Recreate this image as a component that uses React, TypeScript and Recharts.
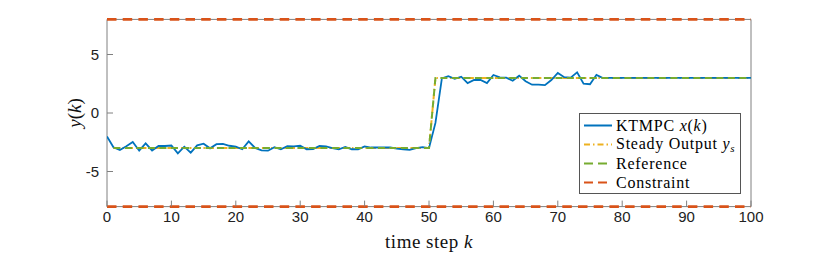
import React from 'react';
import { LineChart, Line, XAxis, YAxis, ReferenceLine, Legend, Label } from 'recharts';

// time step ticks and output ticks
const X_TICKS = [0, 10, 20, 30, 40, 50, 60, 70, 80, 90, 100];
const Y_TICKS = [-5, 0, 5];
const X_MIN = 0;
const X_MAX = 100;
const Y_MIN = -8;
const Y_MAX = 8;

// KTMPC output x(k), k = 0..100
const KTMPC = [
  -2.0, -2.93, -3.16, -2.85, -2.48, -3.22, -2.6, -3.2, -2.82, -2.82,
  -2.78, -3.45, -2.88, -3.39, -2.76, -2.62, -3.02, -2.66, -2.65, -2.8,
  -2.88, -3.1, -2.42, -2.98, -3.2, -3.22, -2.92, -3.1, -2.84, -2.85,
  -2.8, -3.1, -3.08, -2.82, -2.85, -3.0, -3.1, -2.9, -3.1, -3.1,
  -2.85, -2.95, -2.95, -2.95, -2.95, -3.05, -3.1, -3.15, -3.0, -2.92,
  -3.0, -0.85, 2.96, 3.15, 2.92, 3.1, 2.55, 2.82, 2.82, 2.55,
  3.25, 3.04, 3.02, 2.76, 3.19, 2.72, 2.42, 2.42, 2.38, 2.82,
  3.42, 3.06, 3.02, 3.48, 2.5, 2.46, 3.26, 2.98, 3, 3,
  3, 3, 3, 3, 3, 3, 3, 3, 3, 3,
  3, 3, 3, 3, 3, 3, 3, 3, 3, 3,
  3,
];

// steady output y_s and reference: corner points of the step
const STEADY_K = [1, 50, 51, 100];
const STEADY_Y = [-3, -3, 3, 3];
const REF_K = [1, 50, 51, 100];
const REF_Y = [-3, -3, 3, 3];

const BLUE = '#0072BD';
const YELLOW = '#EDB120';
const GREEN = '#77AC30';
const ORANGE = '#D95319';
const AXIS = '#808080';

const ktmpcData = KTMPC.map((y, k) => ({ k, y }));
const steadyData = STEADY_K.map((k, i) => ({ k, y: STEADY_Y[i] }));
const refData = REF_K.map((k, i) => ({ k, y: REF_Y[i] }));

const serif = '"Liberation Serif", "Times New Roman", serif';
const sans = '"Liberation Sans", Arial, sans-serif';

const legendRows = [
  { key: 'ktmpc', color: BLUE, dash: undefined, label: <>KTMPC <i>x</i>(<i>k</i>)</> },
  {
    key: 'ys',
    color: YELLOW,
    dash: '6 3 1.5 3',
    label: (
      <>
        Steady Output <i>y</i>
        <i style={{ fontSize: 11, position: 'relative', top: 3 }}>s</i>
      </>
    ),
  },
  { key: 'ref', color: GREEN, dash: '9 5', label: <>Reference</> },
  { key: 'con', color: ORANGE, dash: '9 5', label: <>Constraint</> },
];

const renderLegend = () => (
  <div
    style={{
      width: 162,
      height: 81,
      boxSizing: 'border-box',
      border: '1px solid #555',
      background: '#fff',
      padding: '2px 0 0 3px',
      fontFamily: serif,
      fontSize: 16,
      letterSpacing: 0.75,
      color: '#000',
    }}
  >
    {legendRows.map((r) => (
      <div key={r.key} style={{ display: 'flex', alignItems: 'center', height: 19, overflow: 'visible' }}>
        <svg width={33} height={19} style={{ flex: 'none' }}>
          <line x1={1} x2={29} y1={9.5} y2={9.5} stroke={r.color} strokeWidth={2} strokeDasharray={r.dash} />
        </svg>
        <span style={{ whiteSpace: 'nowrap', lineHeight: '17px' }}>{r.label}</span>
      </div>
    ))}
  </div>
);

const renderXLabel = () => (
  <text x={429} y={248} textAnchor="middle" fontFamily={serif} fontSize={19} letterSpacing={0.5} fill="#111">
    time step <tspan fontStyle="italic">k</tspan>
  </text>
);

const renderYLabel = () => (
  <text
    x={0}
    y={0}
    transform="translate(81,113) rotate(-90)"
    textAnchor="middle"
    fontFamily={serif}
    fontSize={19}
    fill="#111"
  >
    <tspan fontStyle="italic">y</tspan>(<tspan fontStyle="italic">k</tspan>)
  </text>
);

export default function App() {
  return (
    <div style={{ position: 'absolute', left: 0, top: 0, background: '#fff' }}>
      <LineChart width={830} height={258} margin={{ top: 18.4, right: 78, bottom: 21.4, left: 0 }}>
        <XAxis
          xAxisId="b"
          type="number"
          dataKey="k"
          domain={[X_MIN, X_MAX]}
          ticks={X_TICKS}
          allowDataOverflow
          height={30}
          axisLine={false}
          tickSize={-6}
          tickMargin={11}
          stroke={AXIS}
          tick={{ fill: '#222', fontSize: 15, fontFamily: sans }}
        >
          <Label content={renderXLabel} />
        </XAxis>
        <XAxis
          xAxisId="t"
          orientation="top"
          type="number"
          dataKey="k"
          domain={[X_MIN, X_MAX]}
          ticks={X_TICKS}
          height={1}
          axisLine={false}
          tickSize={-6}
          tick={false}
          stroke={AXIS}
        />
        <YAxis
          yAxisId="l"
          type="number"
          domain={[Y_MIN, Y_MAX]}
          ticks={Y_TICKS}
          allowDataOverflow
          width={107}
          axisLine={false}
          tickSize={-6}
          tickMargin={14}
          stroke={AXIS}
          tick={{ fill: '#222', fontSize: 15, fontFamily: sans }}
        >
          <Label content={renderYLabel} />
        </YAxis>
        <YAxis
          yAxisId="r"
          orientation="right"
          type="number"
          domain={[Y_MIN, Y_MAX]}
          ticks={Y_TICKS}
          width={1}
          axisLine={false}
          tickSize={-6}
          tick={false}
          stroke={AXIS}
        />
        {/* axes box */}
        <ReferenceLine xAxisId="b" yAxisId="l" x={X_MIN} stroke={AXIS} strokeWidth={1} />
        <ReferenceLine xAxisId="b" yAxisId="l" x={X_MAX} stroke={AXIS} strokeWidth={1} />
        <ReferenceLine xAxisId="b" yAxisId="l" y={Y_MIN} stroke={AXIS} strokeWidth={1} />
        <ReferenceLine xAxisId="b" yAxisId="l" y={Y_MAX} stroke={AXIS} strokeWidth={1} />
        <Line
          xAxisId="b"
          yAxisId="l"
          data={steadyData}
          dataKey="y"
          stroke={YELLOW}
          strokeWidth={2}
          strokeDasharray="6 3 1.5 3"
          dot={false}
          isAnimationActive={false}
        />
        <Line
          xAxisId="b"
          yAxisId="l"
          data={ktmpcData}
          dataKey="y"
          stroke={BLUE}
          strokeWidth={1.8}
          dot={false}
          isAnimationActive={false}
        />
        <Line
          xAxisId="b"
          yAxisId="l"
          data={refData}
          dataKey="y"
          stroke={GREEN}
          strokeWidth={2}
          strokeDasharray="7 4.5"
          dot={false}
          isAnimationActive={false}
        />
        <ReferenceLine xAxisId="b" yAxisId="l" y={Y_MAX} stroke={ORANGE} strokeWidth={2.6} strokeDasharray="9.5 6.2" />
        <ReferenceLine xAxisId="b" yAxisId="l" y={Y_MIN} stroke={ORANGE} strokeWidth={2.6} strokeDasharray="9.5 6.2" />
        <Legend
          layout="horizontal"
          verticalAlign="middle"
          align="center"
          content={renderLegend}
          wrapperStyle={{ left: 579, top: 113, width: 162, height: 81 }}
        />
      </LineChart>
    </div>
  );
}
